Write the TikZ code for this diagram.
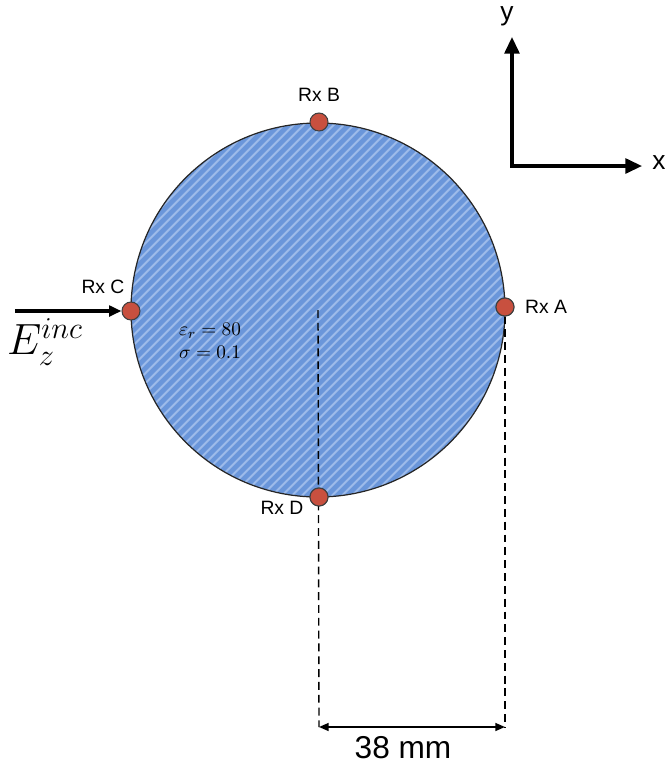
\documentclass[tikz,border=0pt]{standalone}
\usepackage{fontspec}
\setmainfont{Liberation Sans}
\usetikzlibrary{arrows.meta, patterns.meta}
\definecolor{dielc}{HTML}{6A96DA}
\definecolor{hatchc}{HTML}{9DBBEA}
\definecolor{rxc}{HTML}{C8503F}

\begin{document}
\begin{tikzpicture}[x=0.02cm, y=-0.02cm,
          rx/.style={circle, draw=black!75, fill=rxc, line width=0.6pt,
            minimum size=3.6mm, inner sep=0pt},
          rxlabel/.style={font=\fontsize{11}{13}\selectfont},
          dimline/.style={line width=0.8pt, dash pattern=on 4.5pt off 2.8pt},
          bigtip/.tip={Triangle[length=9.5pt, width=8.5pt]},
          dimtip/.tip={Triangle[length=5.5pt, width=4.5pt]}]
        \useasboundingbox (0,0) rectangle (670,769);
        \coordinate (O) at (318,310);
        \fill[dielc] (O) circle[radius=187];
        \path[pattern={Lines[angle=45, distance=4pt, line width=1.2pt]},
              pattern color=hatchc] (O) circle[radius=187];
        \draw[line width=0.7pt, black!85] (O) circle[radius=187];
        \foreach \n/\x/\y in {A/505/307, B/319/122, C/131/311, D/319/497}{
          \node[rx] (rx\n) at (\x,\y) {};
        }
        \coordinate (dimL) at (319,727);
        \coordinate (dimR) at (rxA |- dimL);
        \draw[dimline] (O) -- (dimL);
        \draw[dimline] (rxA) -- (dimR);
        \node[rx] at (rxA) {};
        \node[rx] at (rxD) {};
        \draw[dimtip-dimtip, line width=1pt] (dimL) -- (dimR);
        \node[font=\fontsize{18}{20}\selectfont] (dimtxt) at (403,748) {38 mm};
        \node[rxlabel] (labA) at (546,307) {Rx A};
        \node[rxlabel] (labB) at (319,95) {Rx B};
        \node[rxlabel] (labC) at (103,287) {Rx C};
        \node[rxlabel] (labD) at (282,508) {Rx D};
        \coordinate (src) at (15,311);
        \draw[-{Triangle[length=7pt, width=6pt]}, line width=1.8pt] (src) -- (rxC);
        \node[font=\fontsize{25}{30}\selectfont, inner sep=0pt] (Einc) at (45,342)
              {$E_z^{inc}$};
        \node[font=\fontsize{11}{13}\selectfont] (epsr) at (210,331)
              {$\varepsilon_r = 80$};
        \node[font=\fontsize{11}{13}\selectfont] (sigma) at (210,352)
              {$\sigma = 0.1$};
        \coordinate (ax0) at (512,166);
        \coordinate (axY) at (512,37);
        \coordinate (axX) at (642,166);
        \draw[bigtip-bigtip, line width=1.8pt] (axY) |- (axX);
        \node[font=\fontsize{15}{17}\selectfont] (ylab) at (507,16) {y};
        \node[font=\fontsize{15}{17}\selectfont] (xlab) at (659,163) {x};
      \end{tikzpicture}
\end{document}
